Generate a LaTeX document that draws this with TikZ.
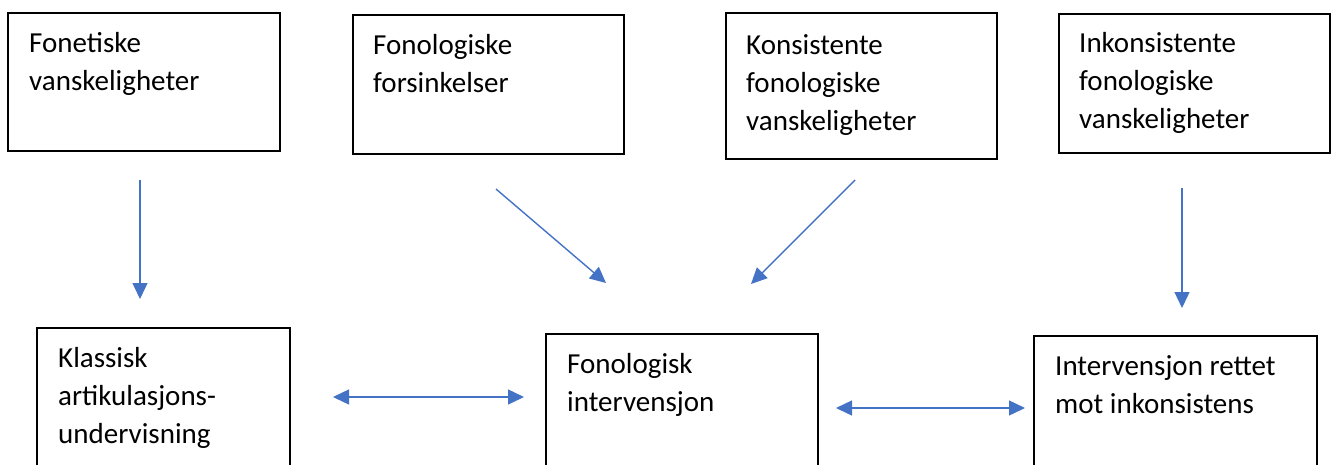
\documentclass[tikz,border=0pt]{standalone}
\usepackage{fontspec}
\setmainfont{Carlito}
\usetikzlibrary{arrows.meta}
\definecolor{arrowblue}{HTML}{4472C4}
\tikzset{
  boxnode/.style={draw=black, line width=2pt, rectangle, inner sep=0pt, anchor=north west},
  lbl/.style={anchor=north west, inner sep=0pt, align=left, font=\fontsize{29}{38}\selectfont, yshift=26.6pt},
  conn/.style={draw=arrowblue, line width=1.4pt, -{Triangle[length=16pt,width=15pt]}},
  dconn/.style={draw=arrowblue, line width=1.4pt, {Triangle[length=16pt,width=15pt]}-{Triangle[length=16pt,width=15pt]}}
}
\begin{document}
\begin{tikzpicture}[x=1pt,y=-1pt]
\useasboundingbox (0,0) rectangle (1336,464);
% top boxes
\node[boxnode, minimum width=272pt, minimum height=138pt] (b1) at (7,12) {};
\node[boxnode, minimum width=271pt, minimum height=139pt] (b2) at (352,14) {};
\node[boxnode, minimum width=271pt, minimum height=146pt] (b3) at (725,12) {};
\node[boxnode, minimum width=271pt, minimum height=139pt] (b4) at (1058,13) {};
% bottom boxes (extend beyond lower edge)
\node[boxnode, minimum width=253pt, minimum height=160pt] (b5) at (36,327) {};
\node[boxnode, minimum width=272pt, minimum height=160pt] (b6) at (545,333) {};
\node[boxnode, minimum width=283pt, minimum height=160pt] (b7) at (1033,335) {};
% labels (position = first baseline)
\node[lbl] (t1) at (29,52) {\strut Fonetiske\\vanskeligheter};
\node[lbl] (t2) at (373,54) {\strut Fonologiske\\forsinkelser};
\node[lbl] (t3) at (746,54) {\strut Konsistente\\fonologiske\\vanskeligheter};
\node[lbl] (t4) at (1079,52) {\strut Inkonsistente\\fonologiske\\vanskeligheter};
\node[lbl] (t5) at (58,367) {\strut Klassisk\\artikulasjons-\\undervisning};
\node[lbl] (t6) at (567,373) {\strut Fonologisk\\intervensjon};
\node[lbl] (t7) at (1055,375) {\strut Intervensjon rettet\\mot inkonsistens};
% arrow end points
\coordinate (a1s) at (140,180); \coordinate (a1e) at (140,299);
\coordinate (a2s) at (496,189); \coordinate (a2e) at (606,283);
\coordinate (a3s) at (855,180); \coordinate (a3e) at (751,284);
\coordinate (a4s) at (1182,188); \coordinate (a4e) at (1182,308);
\coordinate (h1s) at (333,397); \coordinate (h1e) at (524,397);
\coordinate (h2s) at (836,408); \coordinate (h2e) at (1025,408);
\draw[conn] (a1s) -- (a1e);
\draw[conn] (a2s) -- (a2e);
\draw[conn] (a3s) -- (a3e);
\draw[conn] (a4s) -- (a4e);
\draw[dconn] (h1s) -- (h1e);
\draw[dconn] (h2s) -- (h2e);
\end{tikzpicture}
\end{document}
